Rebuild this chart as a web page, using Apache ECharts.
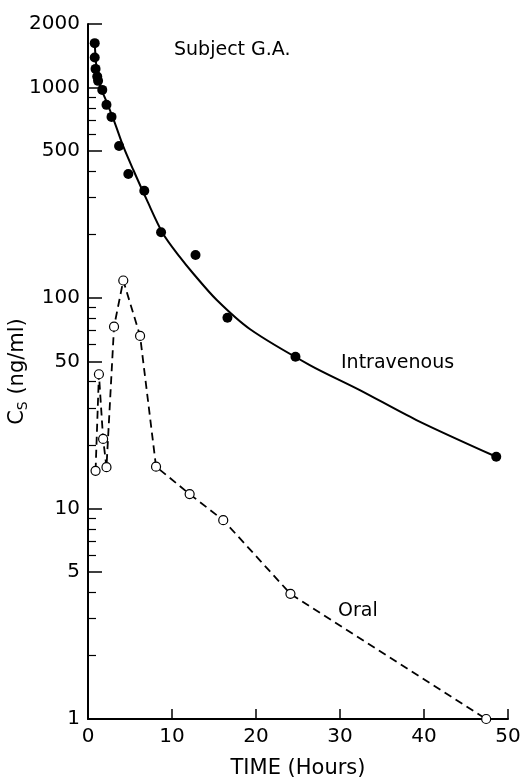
<!DOCTYPE html>
<html lang="en">
<head>
    <meta charset="UTF-8">
    <title>Cs vs time</title>
    <script src="https://cdn.jsdelivr.net/npm/echarts@6/dist/echarts.min.js"></script>
</head>
<style>
    body { margin: 0; background: #fff; }
</style>
<body>
    <div id="box" style="width:526px;height:777px"></div>
</body>
<script>
    // intravenous, measured points (hours, ng/ml)
    const ivTime = [0.8, 0.8, 0.9, 1.1, 1.2, 1.7, 2.2, 2.8, 3.7, 4.8, 6.7, 8.7, 12.8, 16.6, 24.7, 48.6];
    const ivConc = [1622, 1386, 1224, 1125, 1074, 973, 826, 724, 527, 388, 323, 205, 160, 80.5, 52.6, 17.6];
    // fitted curve through the iv points
    const fitTime = [0.8, 1.0, 1.4, 2.2, 3.2, 4.2, 5.4, 7.0, 8.9, 10.9, 12.5, 15.3, 19.3, 26.4, 32.3, 39.1, 48.6];
    const fitConc = [1630, 1256, 1028, 857, 676, 524, 405, 292, 203, 157, 131, 98, 71, 48, 36.6, 26.3, 17.6];
    // oral
    const oralTime = [0.9, 1.3, 1.8, 2.2, 3.1, 4.2, 6.2, 8.1, 12.1, 16.1, 24.1, 47.4];
    const oralConc = [15.1, 43.4, 21.4, 15.7, 73, 121, 66, 15.8, 11.7, 8.8, 3.93, 1.0];
    // axis ticks
    const yLabels = [1, 5, 10, 50, 100, 500, 1000, 2000];
    const yMinor = [2, 3, 4, 6, 7, 8, 9, 20, 30, 40, 60, 70, 80, 90, 200, 300, 400, 600, 700, 800, 900];

    const pairs = (xs, ys) => xs.map((x, i) => [x, ys[i]]);
    const font = 'DejaVu Sans';

    var chart = echarts.init(document.getElementById('box'));
    var option = {
        animation: false,
        grid: { left: 88, right: 18, top: 24, bottom: 58, outerBoundsMode: 'none', containLabel: false },
        xAxis: {
            type: 'value',
            min: 0, max: 50, interval: 10,
            name: 'TIME (Hours)',
            nameLocation: 'middle',
            nameGap: 39,
            nameTextStyle: { color: '#000', fontSize: 21, fontFamily: font },
            axisLine: { lineStyle: { color: '#000', width: 2 } },
            axisTick: { inside: true, length: 10, lineStyle: { color: '#000', width: 1.5 } },
            axisLabel: { color: '#000', fontSize: 20, fontFamily: font, margin: 8 },
            splitLine: { show: false }
        },
        yAxis: [{
            type: 'log', logBase: 10, min: 1, max: 2000,
            name: '{c|C}{s|S}{c| (ng/ml)}',
            nameLocation: 'middle',
            nameGap: 58,
            nameMoveOverlap: false,
            nameTextStyle: {
                rich: {
                    c: { color: '#000', fontSize: 21, fontFamily: font },
                    s: { color: '#000', fontSize: 14, fontFamily: font, padding: [11, 0, 0, 0] }
                }
            },
            axisLine: { lineStyle: { color: '#000', width: 2 } },
            axisTick: { inside: true, length: 14, customValues: yLabels, lineStyle: { color: '#000', width: 1.5 } },
            axisLabel: {
                customValues: yLabels, color: '#000', fontSize: 20, fontFamily: font, margin: 8,
                formatter: v => String(v)
            },
            splitLine: { show: false }
        }, {
            type: 'log', logBase: 10, min: 1, max: 2000,
            position: 'left',
            axisLine: { show: false },
            axisTick: { inside: true, length: 8, customValues: yMinor, lineStyle: { color: '#000', width: 1.2 } },
            axisLabel: { show: false },
            splitLine: { show: false }
        }],
        series: [{
            type: 'line',
            data: pairs(fitTime, fitConc),
            smooth: 0.3,
            showSymbol: false,
            lineStyle: { color: '#000', width: 2 }
        }, {
            type: 'scatter',
            data: pairs(ivTime, ivConc),
            symbol: 'circle',
            symbolSize: 10,
            itemStyle: { color: '#000', opacity: 1 }
        }, {
            type: 'line',
            data: pairs(oralTime, oralConc),
            symbol: 'circle',
            symbolSize: 9,
            showAllSymbol: true,
            itemStyle: { color: '#fff', borderColor: '#000', borderWidth: 1.2 },
            lineStyle: { color: '#000', width: 1.8, type: [8, 5] },
            z: 3
        }],
        graphic: [
            { type: 'text', left: 174, top: 41, style: { text: 'Subject G.A.', font: '19px "DejaVu Sans"', fill: '#000' } },
            { type: 'text', left: 341, top: 354, style: { text: 'Intravenous', font: '19px "DejaVu Sans"', fill: '#000' } },
            { type: 'text', left: 338, top: 602, style: { text: 'Oral', font: '19px "DejaVu Sans"', fill: '#000' } }
        ]
    };
    chart.setOption(option);
</script>
</html>
